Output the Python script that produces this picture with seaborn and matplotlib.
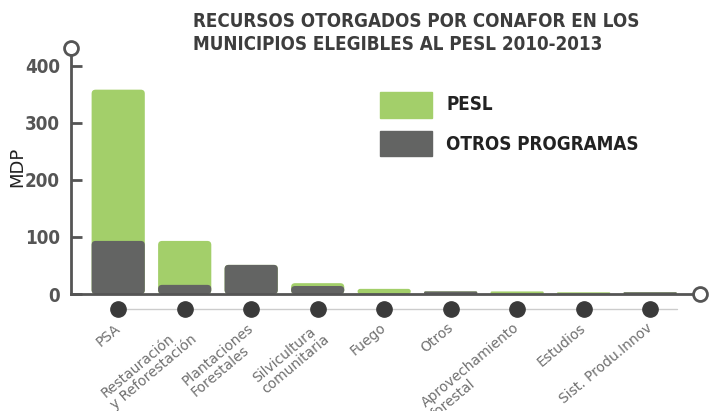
import matplotlib
matplotlib.use("Agg")
import matplotlib.pyplot as plt
import seaborn as sns
import pandas as pd
from matplotlib.patches import FancyBboxPatch

categories = ["PSA", "Restauración\ny Reforestación", "Plantaciones\nForestales",
              "Silvicultura\ncomunitaria", "Fuego", "Otros",
              "Aprovechamiento\nforestal", "Estudios", "Sist. Produ.Innov"]
otros = [93, 16, 51, 14, 0, 4.5, 0, 0, 3]
pesl = [265, 77, 0, 5, 9, 0, 4.5, 3, 0]
yticks = [0, 100, 200, 300, 400]
title = "RECURSOS OTORGADOS POR CONAFOR EN LOS\nMUNICIPIOS ELEGIBLES AL PESL 2010-2013"

GREEN = "#a3cf6a"
GRAY = "#636463"
DARK = "#3d3d3d"
AX = "#555555"

sns.set_theme(style="white")
plt.rcParams['font.family'] = ['DejaVu Sans']

df = pd.DataFrame({"cat": categories, "otros": otros, "pesl": pesl})
df["total"] = df["otros"] + df["pesl"]

fig = plt.figure(figsize=(7.09, 4.11), dpi=100)
ax = fig.add_axes([71/709, 1-294/411, (700-71)/709, (294-48)/411])

sns.barplot(data=df, x="cat", y="total", color=GREEN, width=0.8, ax=ax, saturation=1, linewidth=0)
sns.barplot(data=df, x="cat", y="otros", color=GRAY, width=0.8, ax=ax, saturation=1, linewidth=0)

ax.set_xlim(-0.71, 8.75)
ax.set_ylim(0, 431)

# rounded corners on bars
px_per_x = (700-71) / (8.75 + 0.71)
px_per_y = (294-48) / 431
for p in list(ax.patches):
    x, y = p.get_x(), p.get_y()
    w, h = p.get_width(), p.get_height()
    if h <= 0:
        p.remove()
        continue
    r = min(0.06, h * px_per_y / px_per_x / 2)
    fb = FancyBboxPatch((x + r, y + r * px_per_x / px_per_y), w - 2*r, max(h - 2*r*px_per_x/px_per_y, 0),
                        boxstyle=f"round,pad={r},rounding_size={r}",
                        mutation_aspect=px_per_x/px_per_y,
                        facecolor=p.get_facecolor(), edgecolor="none", zorder=p.get_zorder())
    p.remove()
    ax.add_patch(fb)

for s in ["top", "right"]:
    ax.spines[s].set_visible(False)
for s in ["left", "bottom"]:
    ax.spines[s].set_color(AX)
    ax.spines[s].set_linewidth(2)
    ax.spines[s].set_zorder(6)

ax.set_yticks(yticks)
ax.set_yticklabels([str(v) for v in yticks], fontsize=13.5, fontweight="bold", color=AX,
                   fontstretch="condensed")
ax.tick_params(axis="y", direction="in", length=8, width=2, color=AX, pad=8, left=True)
ax.set_xticks([])
ax.set_xlabel("")
ax.set_ylabel("MDP", fontsize=13, color="#222222")
ax.yaxis.set_label_coords(-0.0715, 0.516)

# end circles
ax.plot([-0.71], [431], marker="o", ms=10, mfc="white", mec=AX, mew=2, clip_on=False, zorder=7)
ax.plot([8.75], [0], marker="o", ms=10, mfc="white", mec=AX, mew=2, clip_on=False, zorder=7)

# dot row
n = len(categories)
ax.plot([0, n - 0.6], [-26, -26], color="#cccccc", lw=1, clip_on=False, zorder=1)
ax.plot(range(n), [-26] * n, "o", ms=11, color="#3a3a3a", clip_on=False, zorder=3)

for i, c in enumerate(categories):
    ax.text(i - 0.06, -47, c, rotation=40, ha="right", va="top", rotation_mode="anchor",
            multialignment="left", fontsize=10, color="#707070", linespacing=1.05, clip_on=False)

# legend
fig.patches.append(plt.Rectangle((380/709, 1-118/411), 52/709, 26/411, color=GREEN, transform=fig.transFigure))
fig.patches.append(plt.Rectangle((380/709, 1-156/411), 52/709, 25/411, color=GRAY, transform=fig.transFigure))
fig.text(446/709, 1-105/411, "PESL", fontsize=13.5, fontweight="bold", color="#222222", va="center",
         fontstretch="condensed")
fig.text(446/709, 1-144/411, "OTROS PROGRAMAS", fontsize=13.5, fontweight="bold", color="#222222",
         va="center", fontstretch="condensed")

fig.text(193/709, 1-33/411, title, fontsize=13.5, fontweight="bold", color=DARK, va="center",
         ha="left", linespacing=1.3, fontstretch="condensed")

fig.savefig("out.png", dpi=100, facecolor="white")
